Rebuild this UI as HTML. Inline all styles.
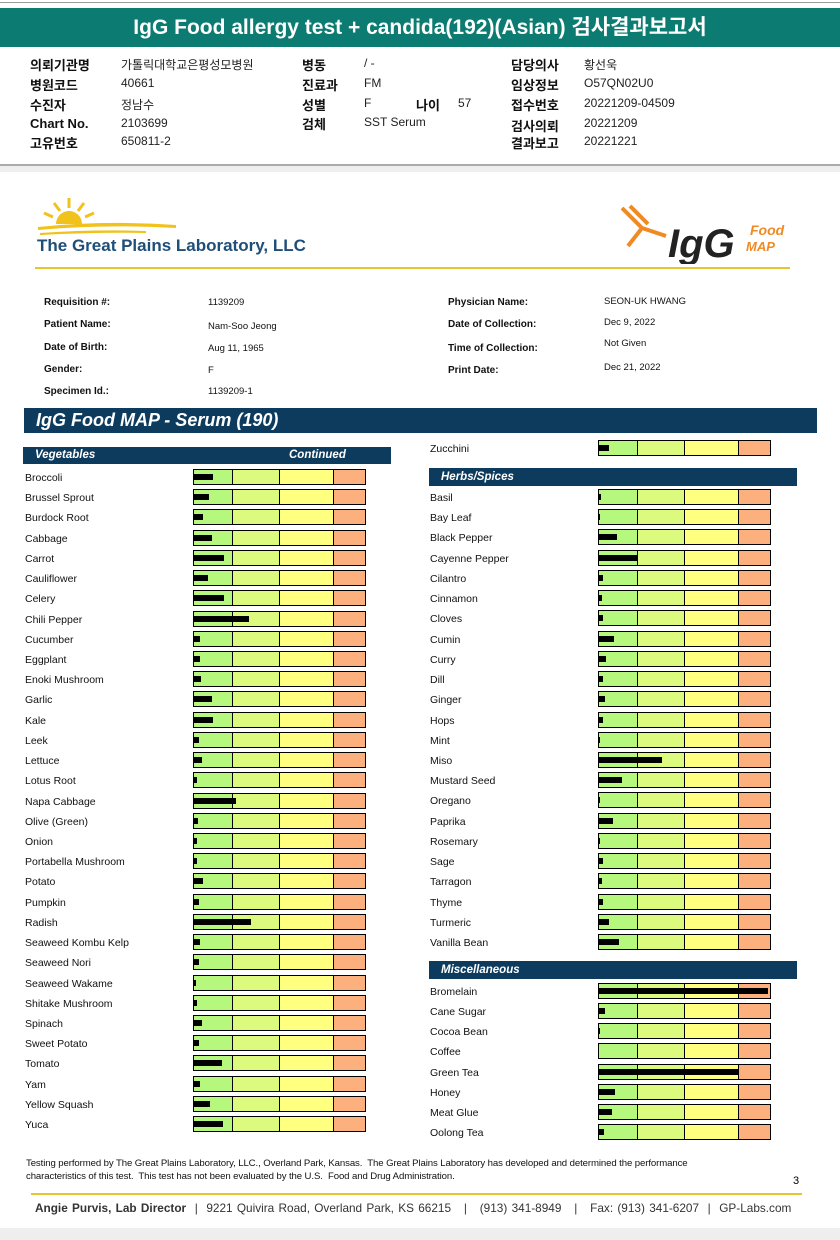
<!DOCTYPE html>
<html><head><meta charset="utf-8">
<style>
body{margin:0;width:840px;height:1240px;position:relative;background:#fff;font-family:"Liberation Sans","Noto Sans CJK KR",sans-serif;overflow:hidden}
.a{position:absolute;white-space:nowrap}
.k{font-size:13px;font-weight:bold;color:#111}
.v{font-size:12px;color:#222}
.pl{font-size:10px;font-weight:bold;color:#111}
.pv{font-size:9.5px;color:#111}
.hdr{position:absolute;background:#0d3b5e;color:#fff;font-weight:bold;font-style:italic}
.food{position:absolute;font-size:10.5px;color:#111}
</style></head><body>
<div class="a" style="left:0;top:2px;width:840px;height:1px;background:#999"></div>
<div class="a" style="left:0;top:8px;width:840px;height:39px;background:#0c7c72;color:#fff;font-size:21px;font-weight:bold;text-align:center;line-height:39px">IgG Food allergy test + candida(192)(Asian) 검사결과보고서</div>
<div>
<div class="a k" style="left:30px;top:55px">의뢰기관명</div><div class="a v" style="left:121px;top:56px">가톨릭대학교은평성모병원</div>
<div class="a k" style="left:30px;top:75px">병원코드</div><div class="a v" style="left:121px;top:76px">40661</div>
<div class="a k" style="left:30px;top:95px">수진자</div><div class="a v" style="left:121px;top:96px">정남수</div>
<div class="a k" style="left:30px;top:116px">Chart No.</div><div class="a v" style="left:121px;top:116px">2103699</div>
<div class="a k" style="left:30px;top:133px">고유번호</div><div class="a v" style="left:121px;top:134px">650811-2</div>
<div class="a k" style="left:302px;top:55px">병동</div><div class="a v" style="left:364px;top:56px">/ -</div>
<div class="a k" style="left:302px;top:75px">진료과</div><div class="a v" style="left:364px;top:76px">FM</div>
<div class="a k" style="left:302px;top:95px">성별</div><div class="a v" style="left:364px;top:96px">F</div>
<div class="a k" style="left:416px;top:95px">나이</div><div class="a v" style="left:458px;top:96px">57</div>
<div class="a k" style="left:302px;top:114px">검체</div><div class="a v" style="left:364px;top:115px">SST Serum</div>
<div class="a k" style="left:511px;top:55px">담당의사</div><div class="a v" style="left:584px;top:56px">황선욱</div>
<div class="a k" style="left:511px;top:75px">임상정보</div><div class="a v" style="left:584px;top:76px">O57QN02U0</div>
<div class="a k" style="left:511px;top:95px">접수번호</div><div class="a v" style="left:584px;top:96px">20221209-04509</div>
<div class="a k" style="left:511px;top:116px">검사의뢰</div><div class="a v" style="left:584px;top:116px">20221209</div>
<div class="a k" style="left:511px;top:133px">결과보고</div><div class="a v" style="left:584px;top:134px">20221221</div>
</div>
<div class="a" style="left:0;top:164px;width:840px;height:2px;background:#aaa"></div>
<div class="a" style="left:0;top:166px;width:840px;height:6px;background:#eee"></div>
<svg class="a" style="left:36px;top:194px" width="145" height="42">
<path d="M20 30 A13 13 0 0 1 46 30 Z" fill="#f0c21b"/>
<g stroke="#f0c21b" stroke-width="3"><line x1="33" y1="14" x2="33" y2="4"/><line x1="24" y1="17" x2="18" y2="9"/><line x1="42" y1="17" x2="48" y2="9"/><line x1="17" y1="23" x2="8" y2="19"/><line x1="49" y1="23" x2="58" y2="19"/></g>
<path d="M2 33 Q70 26 140 31 L140 34 Q70 30 2 36Z" fill="#f0c21b"/>
<path d="M4 39 Q60 35 110 37 L110 39 Q60 38 4 41Z" fill="#f0c21b"/>
</svg>
<div class="a" style="left:37px;top:236px;font-size:17px;font-weight:bold;color:#1f4e79">The Great Plains Laboratory, LLC</div>
<svg class="a" style="left:620px;top:202px" width="170" height="62">
<g stroke="#f08a24" stroke-width="4" fill="none"><line x1="2" y1="6" x2="22" y2="26"/><line x1="22" y1="26" x2="46" y2="34"/><line x1="22" y1="26" x2="8" y2="44"/><line x1="10" y1="4" x2="28" y2="22"/></g>
<text x="48" y="55" font-family="Liberation Sans" font-size="40" font-weight="bold" font-style="italic" fill="#222">IgG</text>
<text x="130" y="33" font-family="Liberation Sans" font-size="14" font-weight="bold" font-style="italic" fill="#f08a24">Food</text>
<text x="126" y="49" font-family="Liberation Sans" font-size="13" font-weight="bold" font-style="italic" fill="#f08a24">MAP</text>
</svg>
<div class="a" style="left:35px;top:267px;width:755px;height:2px;background:#e8c430"></div>
<div>
<div class="a pl" style="left:44px;top:297px">Requisition #:</div><div class="a pv" style="left:208px;top:297px">1139209</div>
<div class="a pl" style="left:44px;top:319px">Patient Name:</div><div class="a pv" style="left:208px;top:321px">Nam-Soo Jeong</div>
<div class="a pl" style="left:44px;top:342px">Date of Birth:</div><div class="a pv" style="left:208px;top:343px">Aug 11, 1965</div>
<div class="a pl" style="left:44px;top:364px">Gender:</div><div class="a pv" style="left:208px;top:365px">F</div>
<div class="a pl" style="left:44px;top:386px">Specimen Id.:</div><div class="a pv" style="left:208px;top:386px">1139209-1</div>
<div class="a pl" style="left:448px;top:297px">Physician Name:</div><div class="a pv" style="left:604px;top:296px">SEON-UK HWANG</div>
<div class="a pl" style="left:448px;top:319px">Date of Collection:</div><div class="a pv" style="left:604px;top:317px">Dec 9, 2022</div>
<div class="a pl" style="left:448px;top:343px">Time of Collection:</div><div class="a pv" style="left:604px;top:338px">Not Given</div>
<div class="a pl" style="left:448px;top:365px">Print Date:</div><div class="a pv" style="left:604px;top:362px">Dec 21, 2022</div>
</div>
<div class="hdr" style="left:24px;top:408px;width:793px;height:25px;font-size:18px;line-height:25px;padding-left:12px;box-sizing:border-box">IgG Food MAP - Serum (190)</div>
<div class="hdr" style="left:23px;top:447px;width:368px;height:17px;font-size:11.5px;line-height:17px;padding-left:12px;box-sizing:border-box">Vegetables<span style="position:absolute;left:266px">Continued</span></div>
<div class="hdr" style="left:429px;top:468px;width:368px;height:18px;font-size:11.5px;line-height:18px;padding-left:12px;box-sizing:border-box">Herbs/Spices</div>
<div class="hdr" style="left:429px;top:961px;width:368px;height:18px;font-size:11.5px;line-height:18px;padding-left:12px;box-sizing:border-box">Miscellaneous</div>
<div id="chart"></div>
<div class="a" style="left:26px;top:1158px;font-size:9.6px;line-height:12.5px;color:#111;letter-spacing:-0.1px">Testing performed by The Great Plains Laboratory, LLC., Overland Park, Kansas.&nbsp; The Great Plains Laboratory has developed and determined the performance<br>characteristics of this test.&nbsp; This test has not been evaluated by the U.S.&nbsp; Food and Drug Administration.</div>
<div class="a" style="left:793px;top:1175px;font-size:11px">3</div>
<div class="a" style="left:31px;top:1193px;width:771px;height:2px;background:#e8c430"></div>
<div class="a" style="left:35px;top:1201px;font-size:11.8px;color:#333;word-spacing:1px"><b>Angie Purvis, Lab Director</b> &nbsp;|&nbsp; 9221 Quivira Road, Overland Park, KS 66215 &nbsp; | &nbsp; (913) 341-8949 &nbsp; | &nbsp; Fax: (913) 341-6207 &nbsp;|&nbsp; GP-Labs.com</div>
<div class="a" style="left:0;top:1228px;width:840px;height:12px;background:#eee"></div>
<script>
// values on a 0-173 scale (box width)
const vegFoods=["Broccoli","Brussel Sprout","Burdock Root","Cabbage","Carrot","Cauliflower","Celery","Chili Pepper","Cucumber","Eggplant","Enoki Mushroom","Garlic","Kale","Leek","Lettuce","Lotus Root","Napa Cabbage","Olive (Green)","Onion","Portabella Mushroom","Potato","Pumpkin","Radish","Seaweed Kombu Kelp","Seaweed Nori","Seaweed Wakame","Shitake Mushroom","Spinach","Sweet Potato","Tomato","Yam","Yellow Squash","Yuca"];
const vegValues=[19,15,9,18,30,14,30,55,6,6,7,18,19,5,8,3,42,4,3,3,9,5,57,6,5,2,3,8,5,28,6,16,29];
const zucFoods=["Zucchini"];
const zucValues=[10];
const herbFoods=["Basil","Bay Leaf","Black Pepper","Cayenne Pepper","Cilantro","Cinnamon","Cloves","Cumin","Curry","Dill","Ginger","Hops","Mint","Miso","Mustard Seed","Oregano","Paprika","Rosemary","Sage","Tarragon","Thyme","Turmeric","Vanilla Bean"];
const herbValues=[2,1,18,38,4,3,4,15,7,4,6,4,1,63,23,1,14,1,4,3,4,10,20];
const miscFoods=["Bromelain","Cane Sugar","Cocoa Bean","Coffee","Green Tea","Honey","Meat Glue","Oolong Tea"];
const miscValues=[169,6,1,0,140,16,13,5];
const scaleMax=173;
const segBreaks=[0,38,85,139,173];
const segColors=["#b6f77e","#dcfb7e","#ffff80","#fbb07e"];
const root=document.getElementById('chart');
function xScale(v,w){return v/scaleMax*w;}
function drawGroup(foods,vals,labelX,boxX,y0,step,name){
  foods.forEach((f,i)=>{
    const cy=y0+i*step;
    const lab=document.createElement('div');
    lab.className='food';lab.style.left=labelX+'px';lab.style.top=(cy-5)+'px';lab.textContent=f;
    
    
    root.appendChild(lab);
    const w=173;
    const box=document.createElement('div');
    box.style.cssText=`position:absolute;left:${boxX}px;top:${cy-8}px;width:${w}px;height:16px;border:1.5px solid #000;box-sizing:border-box;overflow:hidden`;
    
    
    for(let s=0;s<4;s++){
      const seg=document.createElement('div');
      const l=xScale(segBreaks[s],w),r=xScale(segBreaks[s+1],w);
      seg.style.cssText=`position:absolute;top:0;bottom:0;left:${l}px;width:${r-l}px;background:${segColors[s]};${s>0?'border-left:1.5px solid #000;':''}box-sizing:border-box`;
      
      
      box.appendChild(seg);
    }
    const bar=document.createElement('div');
    bar.style.cssText=`position:absolute;left:0;top:4px;height:6px;width:${xScale(vals[i],w)}px;background:#000`;
    
    
    box.appendChild(bar);
    root.appendChild(box);
  });
}
drawGroup(vegFoods,vegValues,25,193,477,20.22,'vegetable');
drawGroup(zucFoods,zucValues,430,598,448,20.2,'zucchini');
drawGroup(herbFoods,herbValues,430,598,497,20.23,'herb');
drawGroup(miscFoods,miscValues,430,598,991,20.15,'misc');
</script>
</body></html>
